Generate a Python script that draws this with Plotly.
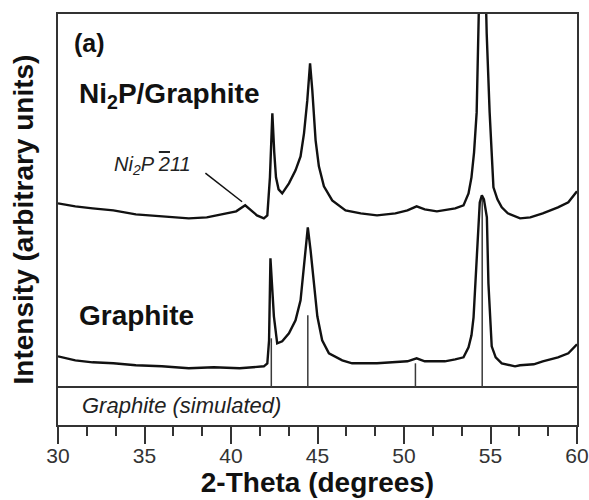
import plotly.graph_objects as go

# ---------------- data (intensity in arbitrary units, offset patterns) ----------------
two_theta_ni2p = [30, 31, 32, 33.2, 34.5, 36, 37.56, 38.6, 39.73, 40.3,
                  40.82, 41.2, 41.5, 41.9, 42.1, 42.25, 42.39, 42.5, 42.6, 42.75,
                  42.96, 43.35, 43.73, 44.02, 44.22, 44.41, 44.57, 44.7, 44.89, 45.08,
                  45.37, 45.85, 46.62, 47.5, 48.44, 49.5, 50.2, 50.73, 51.2, 51.9,
                  52.36, 52.96, 53.44, 53.73, 53.9, 54.05, 54.2, 54.34, 54.45, 54.55,
                  54.65, 54.78, 54.95, 55.07, 55.17, 55.4, 55.65, 56.0, 56.71, 57.3,
                  58.02, 58.9, 59.5, 60]
intensity_ni2p = [184, 181, 179, 177, 173, 171, 169, 170, 174, 176,
                  182, 176, 172, 169, 172, 210, 274, 235, 210, 198,
                  194, 204, 217, 231, 254, 287, 324, 297, 247, 221,
                  201, 187, 177, 174, 172, 174, 177, 181, 178, 176,
                  177, 179, 182, 194, 210, 235, 275, 354, 450, 560,
                  450, 354, 275, 237, 200, 188, 180, 174, 169, 170,
                  174, 180, 185, 196]

two_theta_gr = [30, 31, 32, 33.2, 34.5, 36, 37.56, 39, 40.5, 41.9,
                42.1, 42.2, 42.28, 42.38, 42.48, 42.67, 42.96, 43.35, 43.73, 44.02,
                44.22, 44.44, 44.6, 44.79, 44.99, 45.27, 45.66, 46.43, 47.0, 48.44,
                49.5, 50.2, 50.73, 51.2, 51.7, 52.36, 52.96, 53.44, 53.73, 53.9,
                54.02, 54.21, 54.38, 54.5, 54.62, 54.79, 54.88, 55.07, 55.3, 55.65,
                56.42, 56.71, 57.5, 58.02, 58.9, 59.5, 60]
intensity_gr = [31, 27, 25, 24, 22, 21, 19, 20, 19, 21,
                24, 47, 129, 95, 71, 44, 46, 54, 67, 87,
                121, 160, 137, 101, 71, 47, 34, 27, 24, 24,
                25, 26, 29, 26, 26, 26, 28, 30, 40, 52,
                70, 137, 185, 192, 188, 170, 104, 41, 30, 24,
                21, 22, 23, 26, 30, 34, 43]

# simulated graphite reflections (stick pattern)
sim_two_theta = [42.33, 44.44, 50.66, 54.52]
sim_intensity = [49, 72, 24, 192]

x_tick_values = [30, 35, 40, 45, 50, 55, 60]
x_tick_labels = ["30", "35", "40", "45", "50", "55", "60"]

# ---------------- figure ----------------
FONT = "Liberation Sans, Arial, Helvetica, sans-serif"
INK = "#111111"
AXC = "#333333"

stick_x, stick_y = [], []
for t, h in zip(sim_two_theta, sim_intensity):
    stick_x += [t, t, None]
    stick_y += [0, h, None]

fig = go.Figure()
fig.add_trace(go.Scatter(x=stick_x, y=stick_y, mode="lines",
                         line=dict(color="#3a3a3a", width=1.5),
                         name="Graphite (simulated)", showlegend=False))
fig.add_trace(go.Scatter(x=two_theta_gr, y=intensity_gr, mode="lines",
                         line=dict(color=INK, width=2.4),
                         name="Graphite", showlegend=False))
fig.add_trace(go.Scatter(x=two_theta_ni2p, y=intensity_ni2p, mode="lines",
                         line=dict(color=INK, width=2.4),
                         name="Ni2P/Graphite", showlegend=False))

annotations = [
    dict(x=30.8, y=344, text="<b>(a)</b>", font=dict(size=25, color=INK)),
    dict(x=31.1, y=292, text="<b>Ni<sub>2</sub>P/Graphite</b>", font=dict(size=28, color=INK)),
    dict(x=31.1, y=72, text="<b>Graphite</b>", font=dict(size=28, color=INK)),
    dict(x=33.1, y=222,
         text="<i>Ni<sub>2</sub>P <span style=\"text-decoration:overline\">2</span>11</i>",
         font=dict(size=20, color="#222222")),
    dict(x=31.25, y=-18, text="<i>Graphite (simulated)</i>", font=dict(size=22, color="#222222")),
]
for a in annotations:
    a.update(xref="x", yref="y", xanchor="left", yanchor="middle", showarrow=False)
    a["font"]["family"] = FONT

fig.update_layout(
    width=589, height=500,
    margin=dict(l=58, r=12, t=14, b=75, autoexpand=False),
    paper_bgcolor="white", plot_bgcolor="white",
    annotations=annotations,
    shapes=[dict(type="line", xref="x", yref="y", x0=38.52, y0=214.3, x1=40.64, y1=185.6,
                 line=dict(color=INK, width=1.5))],
    xaxis=dict(
        range=[30, 60], showgrid=False, zeroline=False, automargin=False,
        showline=True, mirror=True, linecolor=AXC, linewidth=1.5,
        tickmode="array", tickvals=x_tick_values, ticktext=x_tick_labels,
        ticks="outside", ticklen=17, tickwidth=1.5, tickcolor=AXC,
        ticklabeloverflow="allow", ticklabelstandoff=-6,
        tickfont=dict(family=FONT, size=21, color="#333333"),
        minor=dict(tickmode="linear", tick0=30, dtick=5/3, ticks="outside",
                   ticklen=9, tickwidth=1.5, tickcolor=AXC),
        title=dict(text="<b>2-Theta (degrees)</b>", standoff=0,
                   font=dict(family=FONT, size=28, color=INK)),
    ),
    yaxis=dict(
        range=[-37.7, 373.4], showgrid=False, automargin=False,
        zeroline=True, zerolinecolor=AXC, zerolinewidth=1.5,
        showline=True, mirror=True, linecolor=AXC, linewidth=1.5,
        showticklabels=False, ticks="",
        title=dict(text="<b>Intensity (arbitrary units)</b>", standoff=14,
                   font=dict(family=FONT, size=28, color=INK)),
    ),
)

fig.write_html("out.html")
